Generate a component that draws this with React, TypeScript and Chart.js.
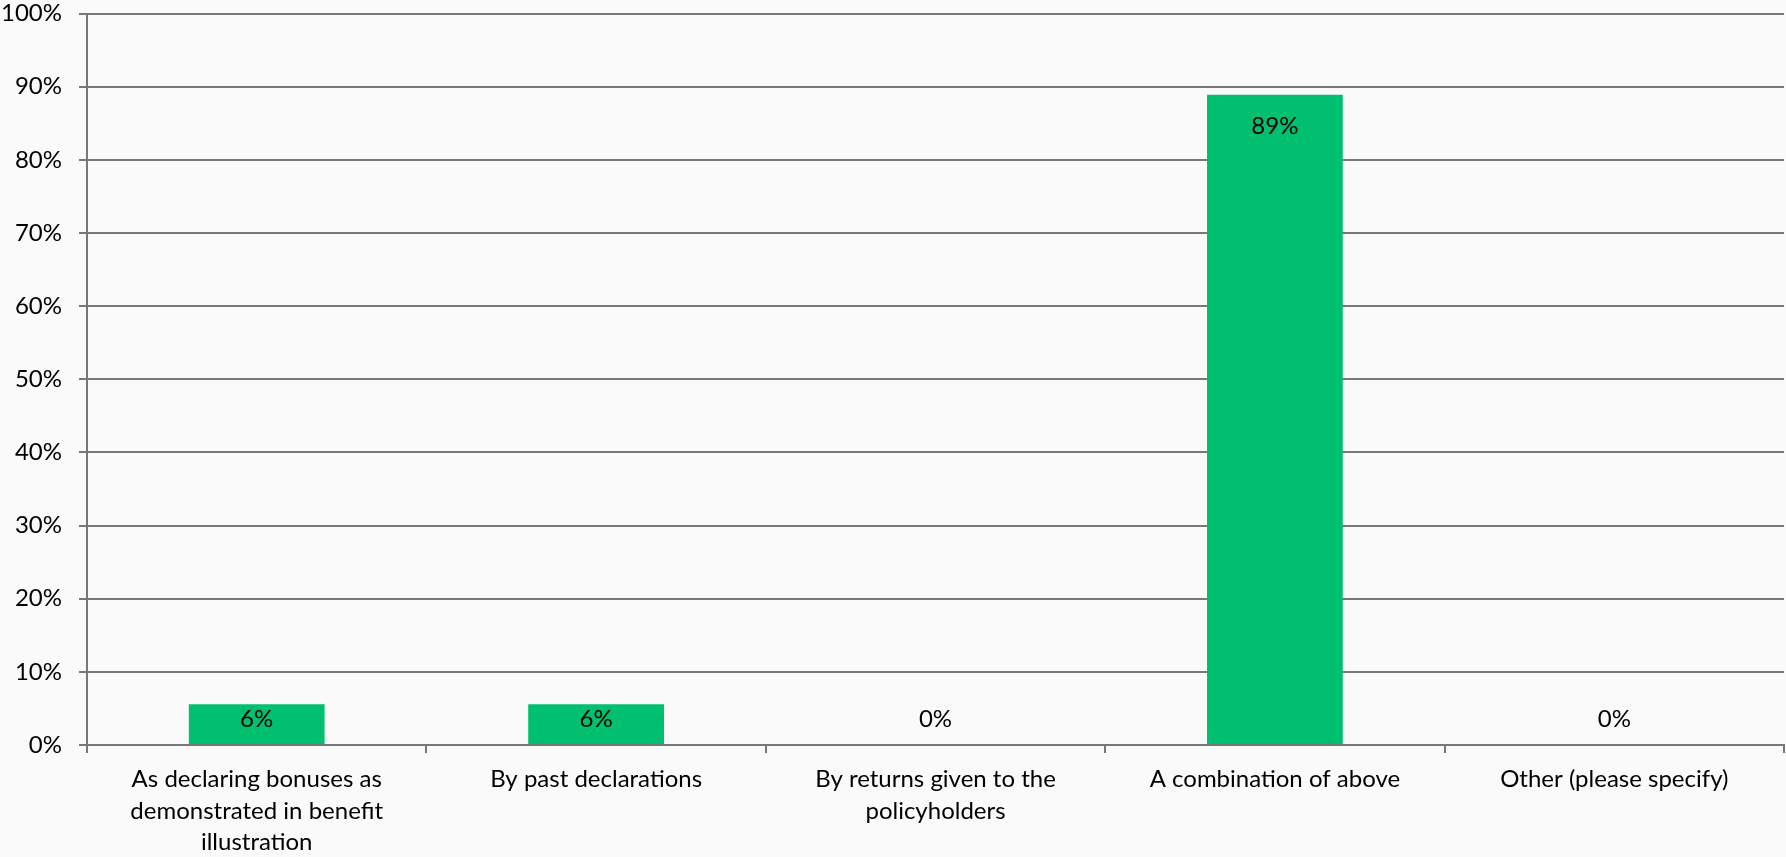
import React, { useEffect, useRef } from 'react';
import { Chart, registerables } from 'chart.js';

Chart.register(...registerables);

const FONT = 'Lato';

const categories: string[][] = [
  ['As declaring bonuses as', 'demonstrated in benefit', 'illustration'],
  ['By past declarations'],
  ['By returns given to the', 'policyholders'],
  ['A combination of above'],
  ['Other (please specify)'],
];
const values: number[] = [5.56, 5.56, 0, 88.89, 0];
const valueLabels: string[] = ['6%', '6%', '0%', '89%', '0%'];

const yMin = 0;
const yMax = 100;
const yStep = 10;

const BAR_COLOR = '#00BF6F';
const GRID_COLOR = '#787878';
const BG_COLOR = '#fafafa';

const bgPlugin = {
  id: 'bg',
  beforeDraw(chart: any) {
    const { ctx, width, height } = chart;
    ctx.save();
    ctx.fillStyle = BG_COLOR;
    ctx.fillRect(0, 0, width, height);
    ctx.restore();
  },
};

const labelPlugin = {
  id: 'valueLabels',
  afterDatasetsDraw(chart: any) {
    const ctx = chart.ctx;
    const meta = chart.getDatasetMeta(0);
    const base = chart.scales.y.getPixelForValue(0);
    ctx.save();
    ctx.font = `24px ${FONT}`;
    ctx.fillStyle = '#000';
    ctx.textAlign = 'center';
    ctx.textBaseline = 'middle';
    meta.data.forEach((bar: any, i: number) => {
      const y = Math.min(bar.y + 31, base - 26);
      ctx.fillText(valueLabels[i], bar.x, y);
    });
    ctx.restore();
  },
};

export default function App() {
  const ref = useRef<HTMLCanvasElement | null>(null);
  useEffect(() => {
    document.body.style.margin = '0';
    const chart = new Chart(ref.current as HTMLCanvasElement, {
      type: 'bar',
      data: {
        labels: categories,
        datasets: [
          {
            data: values,
            backgroundColor: BAR_COLOR,
            borderWidth: 0,
            barPercentage: 0.4,
            categoryPercentage: 1,
          },
        ],
      },
      options: {
        animation: false,
        responsive: false,
        maintainAspectRatio: false,
        layout: { padding: { top: 0, right: 2, left: 0, bottom: 0 } },
        plugins: { legend: { display: false }, tooltip: { enabled: false } },
        scales: {
          y: {
            min: yMin,
            max: yMax,
            afterFit: (s: any) => {
              s.width = 87;
              s.paddingTop = 13.5;
              s.paddingBottom = 0;
            },
            ticks: {
              stepSize: yStep,
              callback: (v: any) => `${v}%`,
              font: { family: FONT, size: 24 },
              color: '#000',
              padding: 17,
            },
            grid: { color: GRID_COLOR, lineWidth: 2, tickLength: 8, drawTicks: true },
            border: { display: true, color: GRID_COLOR, width: 2 },
          },
          x: {
            afterFit: (s: any) => {
              s.height = 112;
            },
            ticks: {
              font: { family: FONT, size: 24, lineHeight: 1.3 },
              color: '#000',
              padding: 11,
              maxRotation: 0,
              autoSkip: false,
            },
            grid: {
              drawOnChartArea: false,
              drawTicks: true,
              tickLength: 8,
              color: GRID_COLOR,
              lineWidth: 2,
              offset: true,
            },
            border: { display: true, color: GRID_COLOR, width: 2 },
          },
        },
      },
      plugins: [bgPlugin, labelPlugin],
    });
    return () => chart.destroy();
  }, []);
  return (
    <div style={{ width: 1786, height: 857 }}>
      <canvas ref={ref} width={1786} height={857} style={{ display: 'block' }} />
    </div>
  );
}
